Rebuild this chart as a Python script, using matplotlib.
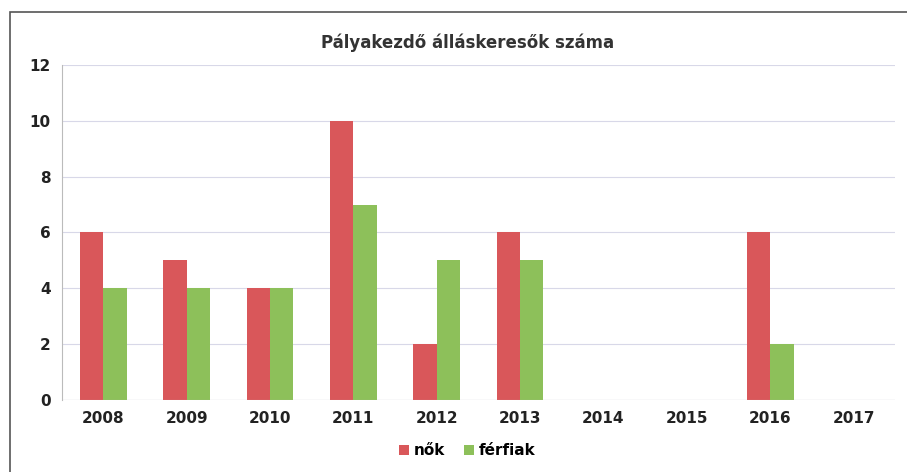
import numpy as np
import matplotlib.pyplot as plt
from matplotlib.patches import Rectangle

years = ["2008", "2009", "2010", "2011", "2012", "2013", "2014", "2015", "2016", "2017"]
nok = [6, 5, 4, 10, 2, 6, 0, 0, 6, 0]
ferfiak = [4, 4, 4, 7, 5, 5, 0, 0, 2, 0]

red = "#d9575a"
green = "#8dc05a"

fig = plt.figure(figsize=(9.07, 4.72), dpi=100)
ax = fig.add_axes([0.068, 0.153, 0.919, 0.709])

# chart border, like the scanned frame
fig.patches.append(Rectangle((0.011, -0.01), 1.0, 0.985, transform=fig.transFigure,
                             fill=False, edgecolor="#555555", linewidth=1.2))

x = np.arange(len(years))
w = 0.28
ax.bar(x - w / 2, nok, w, color=red, label="nők", zorder=3)
ax.bar(x + w / 2, ferfiak, w, color=green, label="férfiak", zorder=3)

ax.set_xlim(-0.5, len(years) - 0.5)
ax.set_ylim(0, 12)
ax.set_yticks(range(0, 13, 2))
ax.set_xticks(x)
ax.set_xticklabels(years)
ax.grid(axis="y", color="#d8d8e8", linewidth=0.8, zorder=0)
for s in ["top", "right", "bottom"]:
    ax.spines[s].set_visible(False)
ax.spines["left"].set_color("#bbbbbb")
ax.axhline(0, color="#bbbbbb", linewidth=0.8, zorder=4)
ax.tick_params(axis="both", length=0, labelsize=11, colors="#222222", pad=8)
for lbl in ax.get_xticklabels() + ax.get_yticklabels():
    lbl.set_fontweight("bold")

fig.text(0.515, 0.91, "Pályakezdő álláskeresők száma", ha="center", va="center",
         fontsize=12, fontweight="bold", color="#333333")

fig.legend(loc="center", bbox_to_anchor=(0.515, 0.045), ncol=2, frameon=False,
           prop={"size": 11, "weight": "bold"}, handlelength=0.7, handleheight=0.7,
           handletextpad=0.3, columnspacing=1.2)

fig.savefig("out.png", dpi=100)
